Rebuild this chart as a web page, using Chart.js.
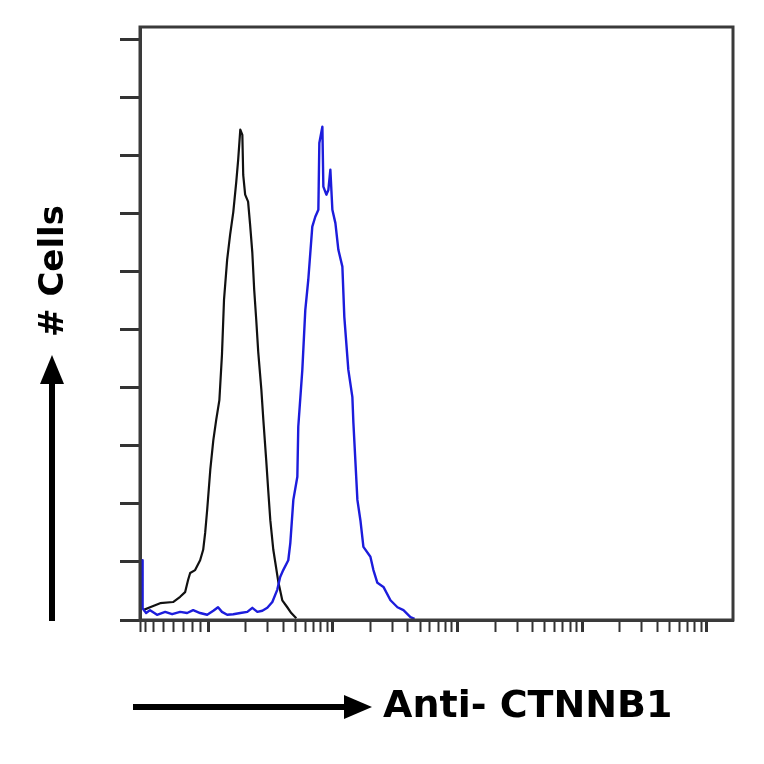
<!DOCTYPE html>
<html>
<head>
<meta charset="utf-8">
<script src="https://cdn.jsdelivr.net/npm/chart.js@4/dist/chart.umd.min.js"></script>
<style>
html,body{margin:0;padding:0;background:#fff;}
#wrap{width:764px;height:764px;}
</style>
</head>
<body>
<div id="wrap"><canvas id="c" width="764" height="764"></canvas></div>
<script>
// ---- data (fluorescence intensity, log scale; y = relative # cells) ----
const controlX = [3.01,3.42,4.12,5.23,5.96,6.53,6.90,7.17,7.86,8.62,9.12,9.46,9.82,10.4,11.0,11.6,12.3,12.9,13.4,14.2,15.0,15.9,16.8,17.4,18.1,18.8,19.1,19.8,20.9,21.7,22.6,23.4,24.3,25.2,26.7,27.7,29.2,30.3,31.5,33.3,34.5,36.5,39.3,43.1,46.4,50.9];
const controlY = [1.7,2.2,2.9,3.1,4.0,4.8,6.9,8.1,8.6,10.3,12.1,15.0,19.0,25.9,31.0,34.5,37.9,45.7,55.2,62.1,66.4,70.3,75.5,79.3,84.5,83.6,76.7,73.3,72.1,68.1,63.3,56.9,51.7,46.2,39.7,34.5,27.6,22.4,17.2,12.1,10.0,6.6,3.4,2.2,1.2,0.3];

const ctnnb1X = [2.97,2.98,3.05,3.18,3.42,3.89,4.52,5.14,5.96,6.78,7.58,8.62,9.82,11.0,12.0,12.9,14.2,15.9,18.1,20.6,22.6,24.8,27.2,29.8,32.7,35.8,37.8,40.0,43.9,45.6,48.2,51.9,52.8,56.9,60.1,63.5,68.4,72.3,76.5,77.9,82.4,83.9,88.7,92.0,95.5,99.1,104.8,110.7,119.2,123.6,133.1,143.4,146.1,157.3,166.3,175.8,200.0,211.5,227.5,254.5,289.7,329.6,368.3,419,452];
const ctnnb1Y = [10.3,2.0,1.7,1.2,1.7,0.9,1.4,1.0,1.4,1.2,1.7,1.2,0.9,1.6,2.2,1.4,0.9,1.0,1.2,1.4,2.1,1.4,1.6,2.1,3.1,5.2,7.4,8.6,10.3,13.3,20.7,24.7,33.3,43.1,53.4,58.6,67.8,69.5,70.7,82.2,85.0,74.7,73.3,74.1,77.6,70.7,68.4,63.8,60.9,52.2,43.1,38.4,34.0,20.7,17.2,12.6,10.9,8.6,6.4,5.7,3.4,2.2,1.7,0.5,0.2];

const xMin = 2.84, xMax = 161800;
const yMin = 0, yMax = 102.2;
const xTickValues = [2.84,3.12,3.62,4.35,5.23,6.30,7.44,8.62,
  10,20,30,40,50,60,70,80,90,
  100,200,300,400,500,600,700,800,900,
  1000,2000,3000,4000,5000,6000,7000,8000,9000,
  10000,20000,30000,40000,50000,60000,70000,80000,90000,100000];
const xMajorValues = [10,100,1000,10000,100000];
const yTickValues = [0,10,20,30,40,50,60,70,80,90,100];

const xLabel = 'Anti- CTNNB1';
const yLabel = '# Cells';

const zip = (xs, ys) => xs.map((x, i) => ({x: x, y: ys[i]}));

const framePlugin = {
  id: 'frame',
  afterDraw(chart) {
    const ctx = chart.ctx, a = chart.chartArea;
    ctx.save();
    ctx.strokeStyle = '#3a3a3a';
    ctx.lineWidth = 3;
    ctx.strokeRect(a.left, a.top, a.right - a.left, a.bottom - a.top);

    ctx.fillStyle = '#000';
    ctx.strokeStyle = '#000';
    // x arrow
    const ay = 707;
    ctx.lineWidth = 6;
    ctx.beginPath(); ctx.moveTo(133, ay); ctx.lineTo(350, ay); ctx.stroke();
    ctx.beginPath(); ctx.moveTo(372, ay); ctx.lineTo(344, ay - 12); ctx.lineTo(344, ay + 12); ctx.closePath(); ctx.fill();
    // y arrow
    const ax = 52;
    ctx.beginPath(); ctx.moveTo(ax, 621); ctx.lineTo(ax, 378); ctx.stroke();
    ctx.beginPath(); ctx.moveTo(ax, 355); ctx.lineTo(ax - 12, 384); ctx.lineTo(ax + 12, 384); ctx.closePath(); ctx.fill();

    ctx.font = 'bold 38px "DejaVu Sans"';
    ctx.textAlign = 'left';
    ctx.textBaseline = 'middle';
    ctx.fillText(xLabel, 383, 707);

    ctx.save();
    ctx.translate(54, 271);
    ctx.rotate(-Math.PI / 2);
    ctx.font = 'bold 34px "DejaVu Sans"';
    ctx.textAlign = 'center';
    ctx.textBaseline = 'middle';
    ctx.fillText(yLabel, 0, 0);
    ctx.restore();
    ctx.restore();
  }
};

new Chart(document.getElementById('c'), {
  type: 'line',
  data: {
    datasets: [
      {label: 'CTNNB1', data: zip(ctnnb1X, ctnnb1Y), borderColor: '#1c1cdc', borderWidth: 2.4, borderJoinStyle: 'round', pointRadius: 0, tension: 0, fill: false},
      {label: 'Control', data: zip(controlX, controlY), borderColor: '#111111', borderWidth: 2.2, borderJoinStyle: 'round', pointRadius: 0, tension: 0, fill: false}
    ]
  },
  options: {
    responsive: false,
    animation: false,
    devicePixelRatio: 1,
    layout: {padding: {top: 27, right: 31, left: 0, bottom: 0}},
    plugins: {legend: {display: false}, tooltip: {enabled: false}},
    scales: {
      x: {
        type: 'logarithmic',
        min: xMin, max: xMax,
        afterBuildTicks(scale) {
          scale.ticks = xTickValues.map(v => ({value: v, major: xMajorValues.includes(v)}));
        },
        afterFit(scale) { scale.height = 144; },
        ticks: {display: false},
        grid: {
          drawOnChartArea: false, drawTicks: true, tickLength: 12,
          color: '#333',
          tickWidth: (c) => (c.tick && c.tick.major) ? 3 : 2
        },
        border: {display: true, color: '#3a3a3a', width: 3}
      },
      y: {
        type: 'linear',
        min: yMin, max: yMax,
        afterBuildTicks(scale) {
          scale.ticks = yTickValues.map(v => ({value: v}));
        },
        afterFit(scale) { scale.width = 140; },
        ticks: {display: false},
        grid: {drawOnChartArea: false, drawTicks: true, tickLength: 20, color: '#333', tickWidth: 3},
        border: {display: true, color: '#3a3a3a', width: 3}
      }
    }
  },
  plugins: [framePlugin]
});
</script>
</body>
</html>
